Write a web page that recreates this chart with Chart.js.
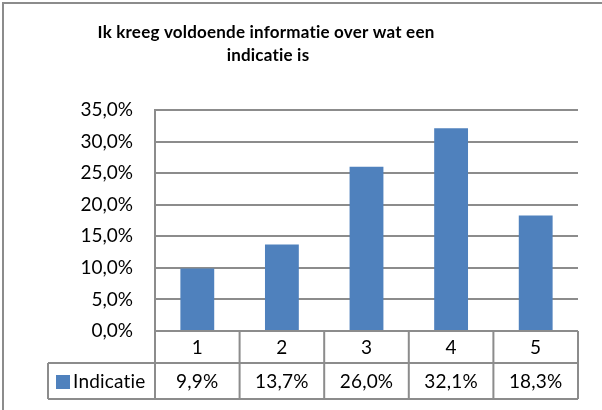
<!DOCTYPE html>
<html>
<head>
<meta charset="utf-8">
<title>Indicatie</title>
<style>
  body { margin: 0; background: #fff; }
  #wrap { width: 602px; height: 410px; }
</style>
</head>
<body>
<div id="wrap"><canvas id="chart" width="602" height="410"></canvas></div>
<script src="https://cdn.jsdelivr.net/npm/chart.js@4/dist/chart.umd.min.js"></script>
<script>
var titleLines = ['Ik kreeg voldoende informatie over wat een', 'indicatie is'];
var categories = ['1', '2', '3', '4', '5'];
var seriesName = 'Indicatie';
var values = [9.9, 13.7, 26.0, 32.1, 18.3];
var yMax = 35;
var yStep = 5;

var FONT = 'Lato, "Open Sans", sans-serif';
var BAR = '#4f81bd';
var LINE = '#8c8c8c';

function pct(v) {
  return v.toFixed(1).replace('.', ',') + '%';
}

// frame, title and the data table under the bars
var extras = {
  id: 'extras',
  afterDraw: function (chart) {
    var ctx = chart.ctx;
    var area = chart.chartArea;
    var xs = chart.scales.x;
    var n = categories.length;
    var cw = (area.right - area.left) / n;
    var top = area.bottom;
    var mid = top + 32;
    var bot = mid + 36;
    var legLeft = 48;

    ctx.save();
    // a tiny letter spacing keeps Lato from joining "ti"
    ctx.letterSpacing = '0.2px';

    // outer frame
    ctx.strokeStyle = LINE;
    ctx.lineWidth = 2;
    ctx.strokeRect(3, 3, 700, 700);

    // title, sized so the first line is about 335px wide
    ctx.fillStyle = '#000';
    ctx.textAlign = 'center';
    ctx.textBaseline = 'alphabetic';
    ctx.font = 'bold 18px ' + FONT;
    var size = 18 * 336 / ctx.measureText(titleLines[0]).width;
    ctx.font = 'bold ' + size.toFixed(1) + 'px ' + FONT;
    ctx.fillText(titleLines[0], 266, 38);
    ctx.fillText(titleLines[1], 268, 61);

    // table grid
    ctx.strokeStyle = LINE;
    ctx.lineWidth = 2;
    ctx.beginPath();
    ctx.moveTo(area.left, top); ctx.lineTo(area.right, top);
    ctx.moveTo(legLeft, mid); ctx.lineTo(area.right, mid);
    ctx.moveTo(legLeft, bot); ctx.lineTo(area.right, bot);
    ctx.moveTo(legLeft, mid); ctx.lineTo(legLeft, bot);
    for (var i = 0; i <= n; i++) {
      var x = area.left + i * cw;
      ctx.moveTo(x, top); ctx.lineTo(x, bot);
    }
    ctx.stroke();

    // table text
    ctx.fillStyle = '#000';
    ctx.font = '19px ' + FONT;
    ctx.textBaseline = 'middle';
    ctx.textAlign = 'center';
    for (var j = 0; j < n; j++) {
      var cx = xs.getPixelForValue(j);
      ctx.fillText(categories[j], cx, (top + mid) / 2 + 1);
      ctx.fillText(pct(values[j]), cx, (mid + bot) / 2 + 1);
    }

    // legend key
    ctx.fillStyle = BAR;
    ctx.fillRect(56, 375, 14, 14);
    ctx.fillStyle = '#000';
    ctx.textAlign = 'left';
    ctx.fillText(seriesName, 73, (mid + bot) / 2 + 1);
    ctx.restore();
  }
};

new Chart(document.getElementById('chart'), {
  type: 'bar',
  data: {
    labels: categories,
    datasets: [{
      label: seriesName,
      data: values,
      backgroundColor: BAR,
      barPercentage: 0.4,
      categoryPercentage: 1.0
    }]
  },
  options: {
    responsive: false,
    animation: false,
    layout: { padding: { top: 110, right: 24, bottom: 79, left: 0 } },
    plugins: {
      legend: { display: false },
      title: { display: false },
      tooltip: { enabled: false }
    },
    scales: {
      x: { display: false },
      y: {
        min: 0,
        max: yMax,
        afterFit: function (scale) { scale.width = 155; },
        ticks: {
          stepSize: yStep,
          padding: 22,
          color: '#000',
          font: { family: FONT, size: 19 },
          callback: function (v) { return pct(v); }
        },
        grid: { color: LINE, lineWidth: 2, drawTicks: false },
        border: { color: LINE, width: 2 }
      }
    }
  },
  plugins: [extras]
});
</script>
</body>
</html>
